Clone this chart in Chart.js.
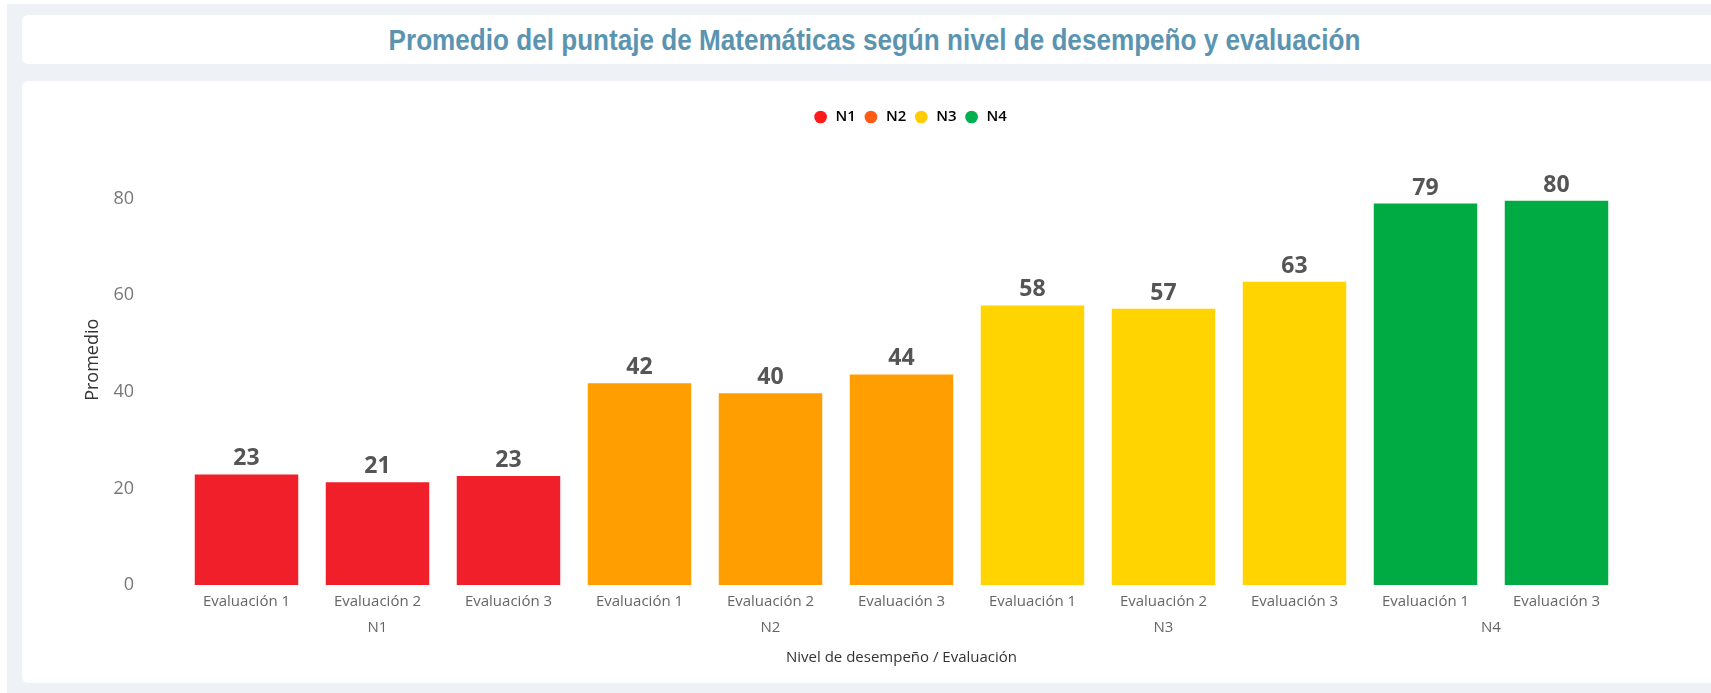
<!DOCTYPE html>
<html>
<head>
<meta charset="utf-8">
<script src="https://cdn.jsdelivr.net/npm/chart.js@4/dist/chart.umd.min.js"></script>
<style>
  html, body { margin: 0; padding: 0; }
  body { width: 1711px; height: 693px; overflow: hidden; background: #fff; position: relative; }
  .fondo { position: absolute; left: 7px; top: 4px; right: 0; bottom: 0; background: #eef2f6; }
  .tarjeta-titulo {
    position: absolute; left: 22px; top: 15px; width: 1706px; height: 49px;
    background: #fff; border-radius: 6px;
    display: flex; align-items: center; justify-content: center;
  }
  .tarjeta-titulo h1 {
    margin: 0; font-family: "Liberation Sans", Arial, sans-serif;
    font-weight: bold; font-size: 30px; color: #5b94b1; line-height: 1;
    white-space: nowrap; transform: scaleX(0.87);
  }
  .tarjeta-grafico {
    position: absolute; left: 22px; top: 81px; width: 1776px; height: 602px;
    background: #fff; border-radius: 6px;
  }
</style>
</head>
<body>
<div class="fondo"></div>
<div class="tarjeta-titulo"><h1>Promedio del puntaje de Matemáticas según nivel de desempeño y evaluación</h1></div>
<div class="tarjeta-grafico"><canvas id="grafico" width="1776" height="602"></canvas></div>
<script>
// datos
const categorias = ["Evaluación 1", "Evaluación 2", "Evaluación 3", "Evaluación 1", "Evaluación 2", "Evaluación 3",
  "Evaluación 1", "Evaluación 2", "Evaluación 3", "Evaluación 1", "Evaluación 3"];
const niveles = ["N1", "N1", "N1", "N2", "N2", "N2", "N3", "N3", "N3", "N4", "N4"];
const promedios = [22.9, 21.3, 22.6, 41.8, 39.7, 43.6, 57.9, 57.2, 62.8, 79.0, 79.6];
const series = ["N1", "N2", "N3", "N4"];
const coloresBarra = ["#f01f2a", "#ff9e00", "#ffd400", "#00ab44"];
const coloresLeyenda = ["#ff1a1a", "#ff5b14", "#ffcc00", "#00b050"];
const ticksY = [0, 20, 40, 60, 80];

const datasets = series.map((s, i) => ({
  label: s,
  data: promedios.map((v, j) => (niveles[j] === s ? v : null)),
  backgroundColor: coloresBarra[i],
  borderWidth: 0,
  barPercentage: 0.79,
  categoryPercentage: 1,
}));

// etiquetas de valor encima de cada barra
const etiquetasValor = {
  id: "etiquetasValor",
  afterDatasetsDraw(chart) {
    const ctx = chart.ctx;
    ctx.save();
    ctx.font = "bold 23px 'Open Sans'";
    ctx.fillStyle = "#555";
    ctx.textAlign = "center";
    ctx.textBaseline = "alphabetic";
    chart.data.datasets.forEach((ds, i) => {
      chart.getDatasetMeta(i).data.forEach((bar, j) => {
        if (ds.data[j] == null) return;
        ctx.fillText(Math.round(ds.data[j]), bar.x, bar.y - 9);
      });
    });
    ctx.restore();
  },
};

// segundo nivel del eje X (N1..N4) + leyenda un poco a la derecha
const gruposEjeX = {
  id: "gruposEjeX",
  afterLayout(chart) {
    chart.legend.left += 58;
    chart.legend.right += 58;
  },
  afterDraw(chart) {
    const x = chart.scales.x;
    const ctx = chart.ctx;
    ctx.save();
    ctx.font = "15px 'Open Sans'";
    ctx.fillStyle = "#666";
    ctx.textAlign = "center";
    ctx.textBaseline = "middle";
    series.forEach((s) => {
      const idx = niveles.map((n, j) => (n === s ? j : -1)).filter((j) => j >= 0);
      const px = idx.map((j) => x.getPixelForValue(j));
      const centro = (Math.min(...px) + Math.max(...px)) / 2;
      ctx.fillText(s, centro, x.top + 43);
    });
    ctx.restore();
  },
};

new Chart(document.getElementById("grafico"), {
  type: "bar",
  data: { labels: categorias, datasets },
  options: {
    responsive: false,
    animation: false,
    layout: { padding: { left: 60, right: 176, top: 21, bottom: 16 } },
    plugins: {
      legend: {
        position: "top",
        labels: {
          usePointStyle: true,
          boxWidth: 15,
          boxHeight: 9,
          padding: 7.5,
          color: "#444",
          font: { family: "'Open Sans'", size: 15, weight: 600 },
          generateLabels: (chart) =>
            chart.data.datasets.map((ds, i) => ({
              text: ds.label,
              fillStyle: coloresLeyenda[i],
              strokeStyle: coloresLeyenda[i],
              lineWidth: 0,
              pointStyle: "circle",
              hidden: !chart.isDatasetVisible(i),
              datasetIndex: i,
            })),
        },
      },
      tooltip: { enabled: false },
    },
    scales: {
      x: {
        stacked: true,
        grid: { display: false, drawTicks: false },
        border: { display: false },
        ticks: {
          color: "#666",
          font: { family: "'Open Sans'", size: 15 },
          padding: 8,
          maxRotation: 0,
          autoSkip: false,
        },
        title: {
          display: true,
          text: "Nivel de desempeño / Evaluación",
          color: "#333",
          font: { family: "'Open Sans'", size: 15 },
          padding: { top: 30, bottom: 0 },
        },
      },
      y: {
        stacked: true,
        min: 0,
        max: 93.3,
        afterBuildTicks: (scale) => {
          scale.ticks = ticksY.map((v) => ({ value: v }));
        },
        afterFit: (scale) => {
          scale.width = 99;
          scale.paddingTop = 0;
          scale.paddingBottom = 0;
        },
        grid: { display: false, drawTicks: false },
        border: { display: false },
        ticks: {
          color: "#777",
          font: { family: "'Open Sans'", size: 18 },
          padding: 47,
        },
        title: {
          display: true,
          text: "Promedio",
          color: "#333",
          font: { family: "'Open Sans'", size: 18 },
          padding: { top: 0, bottom: 9 },
        },
      },
    },
  },
  plugins: [etiquetasValor, gruposEjeX],
});
</script>
</body>
</html>
